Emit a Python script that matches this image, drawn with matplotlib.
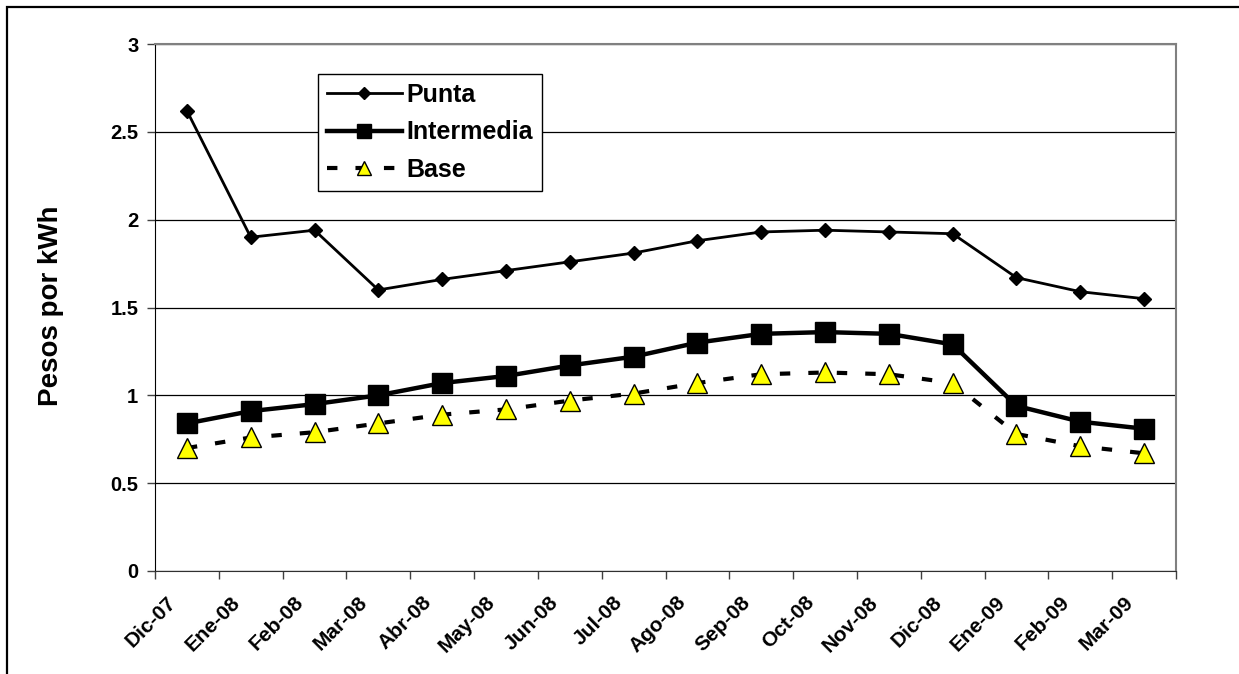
import matplotlib
matplotlib.use("Agg")
import matplotlib.pyplot as plt
from matplotlib.patches import Rectangle
from matplotlib.transforms import ScaledTranslation

plt.rcParams['font.family'] = ['Liberation Sans', 'DejaVu Sans']
plt.rcParams['font.weight'] = 'bold'
plt.rcParams['lines.scale_dashes'] = False

# monthly tariff by period, pesos per kWh
months = ['Dic-07', 'Ene-08', 'Feb-08', 'Mar-08', 'Abr-08', 'May-08', 'Jun-08', 'Jul-08',
          'Ago-08', 'Sep-08', 'Oct-08', 'Nov-08', 'Dic-08', 'Ene-09', 'Feb-09', 'Mar-09']
punta = [2.62, 1.90, 1.94, 1.60, 1.66, 1.71, 1.76, 1.81,
         1.88, 1.93, 1.94, 1.93, 1.92, 1.67, 1.59, 1.55]
intermedia = [0.84, 0.91, 0.95, 1.00, 1.07, 1.11, 1.17, 1.22,
              1.30, 1.35, 1.36, 1.35, 1.29, 0.94, 0.85, 0.81]
base = [0.70, 0.76, 0.79, 0.84, 0.89, 0.92, 0.97, 1.01,
        1.07, 1.12, 1.13, 1.12, 1.07, 0.78, 0.71, 0.67]
yticks = [0, 0.5, 1, 1.5, 2, 2.5, 3]

W, H = 1239, 674
fig = plt.figure(figsize=(W / 100, H / 100), dpi=100)
ax = fig.add_axes([155 / W, 1 - 571 / H, (1176 - 155) / W, (571 - 44) / H])

x = list(range(len(months)))
ax.plot(x, punta, color='black', lw=2.0, marker='D', ms=7, label='Punta', zorder=3)
ax.plot(x, intermedia, color='black', lw=3.2, marker='s', ms=14.5, label='Intermedia', zorder=4)
ax.plot(x, base, color='black', lw=3.0, dashes=(7.5, 13), marker='^', ms=15,
        markerfacecolor='#ffff00', markeredgecolor='black', markeredgewidth=1.0,
        label='Base', zorder=5)

ax.set_xlim(-0.5, len(months) - 0.5)
ax.set_ylim(0, 3)
ax.set_yticks(yticks)
ax.set_yticklabels([f'{v:g}' for v in yticks], fontsize=14.5, fontweight='bold')
ax.set_xticks([i - 0.5 for i in range(len(months) + 1)])
ax.set_xticklabels([])
ax.set_xticks(x, minor=True)
ax.set_xticklabels(months, minor=True, rotation=45, ha='right', va='center',
                   rotation_mode='anchor', fontsize=15, fontweight='bold')
ax.tick_params(axis='x', which='minor', length=0, pad=20.5)
ax.tick_params(axis='x', which='major', length=6, width=1, color='#404040', direction='out')
ax.tick_params(axis='y', length=6, width=1, color='#404040', direction='out', pad=6)
shift = ScaledTranslation(-14 / 100, 0, fig.dpi_scale_trans)
for lbl in ax.get_xticklabels(minor=True):
    lbl.set_transform(lbl.get_transform() + shift)

ax.yaxis.grid(True, color='black', lw=0.9)
ax.set_axisbelow(True)
ax.spines['left'].set_color('black')
ax.spines['bottom'].set_color('#303030')
for s in ('top', 'right'):
    ax.spines[s].set_color('#808080')
    ax.spines[s].set_linewidth(1.5)

fig.text(51 / W, 1 - 306 / H, 'Pesos por kWh', rotation=90, ha='center', va='center',
         fontsize=20, fontweight='bold')

leg = ax.legend(loc='upper left', bbox_to_anchor=(318 / W, 1 - 74 / H),
                bbox_transform=fig.transFigure, fontsize=18, handlelength=3.0,
                handletextpad=0.2, borderpad=0.35, labelspacing=0.54, borderaxespad=0,
                fancybox=False, framealpha=1, edgecolor='black')
leg.get_frame().set_linewidth(1.0)
for t in leg.get_texts():
    t.set_fontweight('bold')
# smaller markers inside the legend box
for h, ms in zip(leg.legend_handles, [6, 9.5, 9.5]):
    h.set_markersize(ms)

# outer chart frame
fig.patches.append(Rectangle((7 / W, -0.1), 1.2, 1 - 7 / H + 0.1, transform=fig.transFigure,
                             fill=False, edgecolor='black', lw=1.6))

fig.savefig('out.png', dpi=100)
